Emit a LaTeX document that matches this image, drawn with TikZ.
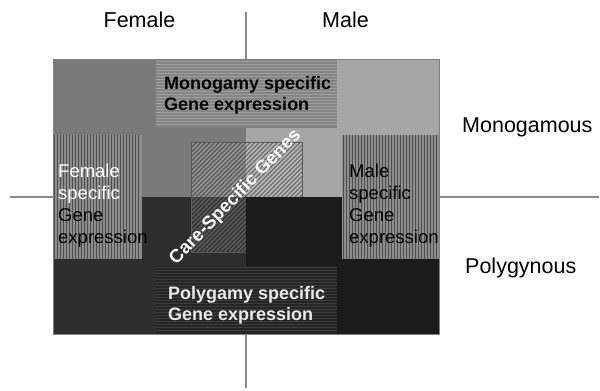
\documentclass[tikz,border=0pt]{standalone}
\usepackage{fontspec}
\setmainfont{Liberation Sans}
\definecolor{qTL}{HTML}{7A7A7A}
\definecolor{qTR}{HTML}{A6A6A6}
\definecolor{qBL}{HTML}{2E2E2E}
\definecolor{qBR}{HTML}{1B1B1B}
\definecolor{monobase}{HTML}{858585}
\definecolor{monoline}{HTML}{9E9E9E}
\definecolor{sexbase}{HTML}{8C8C8C}
\definecolor{sexline}{HTML}{505050}
\definecolor{polybase}{HTML}{252525}
\definecolor{polyline}{HTML}{3C3C3C}
\definecolor{axisgray}{HTML}{8A8A8A}
\definecolor{polytext}{HTML}{E8E8E8}
\begin{document}
\begin{tikzpicture}[x=1pt,y=-1pt,
  axis/.style={draw=axisgray,line width=1.3pt},
  toplab/.style={font=\fontsize{21.5}{24}\selectfont,inner sep=0pt},
  boxlab/.style={font=\fontsize{18}{21}\bfseries\selectfont,inner sep=0pt,anchor=base west},
  sexlab/.style={font=\fontsize{18.5}{22}\selectfont,inner sep=0pt,anchor=base west},
  carelab/.style={font=\fontsize{18.5}{20}\bfseries\selectfont,inner sep=0pt,rotate=46}]
\useasboundingbox (0,0) rectangle (600,391);
\fill[white] (0,0) rectangle (600,391);
% axes
\coordinate (vtop) at (246,12);
\coordinate (vbot) at (246,388);
\coordinate (hleft) at (10,197);
\coordinate (hright) at (599,197);
\draw[axis] (vtop) -- (vbot);
\draw[axis] (hleft) -- (hright);
% quadrants
\fill[qTL] (53,59) rectangle (246,197);
\fill[qTR] (246,59) rectangle (439,197);
\fill[qBL] (53,197) rectangle (246,334);
% care box
\fill[white,opacity=0.2] (191,142) rectangle (302,252);
\begin{scope}
  \clip (191,142) rectangle (302,252);
  \foreach \k in {330,334.5,...,560}
    \draw[black,opacity=0.4,line width=1.1pt] (\k-260,260) -- (\k-130,130);
\end{scope}
\draw[draw=black!65,line width=0.9pt] (191,142) rectangle (302,252);
% bottom-right quadrant over the care box
\fill[qBR] (246,197) rectangle (439,334);
% monogamy box
\fill[monobase] (156,60) rectangle (337,128);
\foreach \y in {61.5,64.5,...,127}
  \draw[monoline,line width=0.9pt] (156,\y) -- (337,\y);
% polygamy box
\fill[polybase] (156,266) rectangle (337,334);
\foreach \y in {267.5,270.5,...,333}
  \draw[polyline,line width=0.9pt] (156,\y) -- (337,\y);
% female / male boxes
\fill[sexbase] (53,135) rectangle (142,259);
\foreach \x in {54.5,57.5,...,141}
  \draw[sexline,line width=0.9pt] (\x,135) -- (\x,259);
\fill[sexbase] (342,135) rectangle (439,259);
\foreach \x in {343.5,346.5,...,438}
  \draw[sexline,line width=0.9pt] (\x,135) -- (\x,259);
% outline
\draw[draw=gray,line width=0.8pt] (53,59) rectangle (439,334);
% top and side labels
\node[toplab,anchor=base] (female) at (139.5,27.5) {Female};
\node[toplab,anchor=base] (male) at (345.5,27.5) {Male};
\node[toplab,anchor=base west] (mono) at (462,132) {Monogamous};
\node[toplab,anchor=base west] (poly) at (465,273) {Polygynous};
% monogamy text
\node[boxlab,text=black] (monoA) at (164,89) {Monogamy specific};
\node[boxlab,text=black] (monoB) at (164,110) {Gene expression};
% polygamy text
\node[boxlab,text=polytext] (polyA) at (168,299) {Polygamy specific};
\node[boxlab,text=polytext] (polyB) at (168,320) {Gene expression};
% female text
\node[sexlab,text=white] (fA) at (58,177) {Female};
\node[sexlab,text=white] (fB) at (58,199) {specific};
\node[sexlab,text=black] (fC) at (58,221) {Gene};
\node[sexlab,text=black] (fD) at (58,243) {expression};
% male text
\node[sexlab,text=black] (mA) at (349,177) {Male};
\node[sexlab,text=black] (mB) at (349,199) {specific};
\node[sexlab,text=black] (mC) at (349,221) {Gene};
\node[sexlab,text=black] (mD) at (349,243) {expression};
% care-specific text
\node[carelab,text=white] (care) at (235.5,197.5) {Care-Specific Genes};
\end{tikzpicture}
\end{document}
